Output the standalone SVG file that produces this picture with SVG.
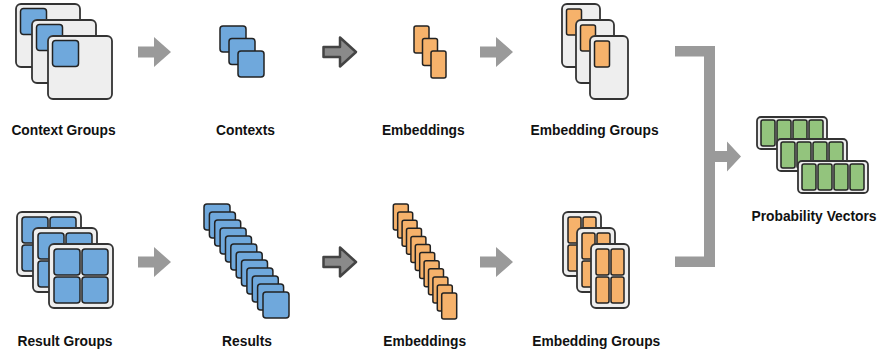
<svg xmlns="http://www.w3.org/2000/svg" xmlns:xlink="http://www.w3.org/1999/xlink" width="878" height="352" viewBox="0 0 878 352">
<style>
.lbl{font-family:"Liberation Sans",Arial,sans-serif;font-weight:bold;font-size:13.8px;fill:#111;text-anchor:middle}
.panel{fill:#eeeeee;stroke:#333;stroke-width:1.8}
.blue{fill:#6fa8dc;stroke:#222;stroke-width:1.5}
.orange{fill:#f6b26b;stroke:#222;stroke-width:1.5}
.green{fill:#93c47d;stroke:#222;stroke-width:1.5}
.garrow{fill:#9a9a9a}
.darrow{fill:#8a8a8a;stroke:#444;stroke-width:2.5;stroke-linejoin:round}
</style>
<defs>
<path id="ga" class="garrow" d="M0,-5.5 H16 V-15 L33,0 L16,15 V5.5 H0 Z"/>
<path id="da" class="darrow" d="M1.5,-5 H18 V-14.5 L34,0 L18,14.5 V5 H1.5 Z"/>
<g id="cg"><rect class="panel" width="64" height="63" rx="5"/><rect class="blue" x="4.5" y="4.5" width="26" height="26" rx="3"/></g>
<rect id="bsq" class="blue" width="26" height="26" rx="3"/>
<rect id="orc" class="orange" width="15" height="27" rx="2"/>
<rect id="orc2" class="orange" width="15" height="26" rx="2"/>
<g id="eg"><rect class="panel" width="38" height="63" rx="5"/><rect class="orange" x="4.5" y="5" width="15" height="26" rx="2"/></g>
<g id="rg"><rect class="panel" width="64" height="64" rx="5"/>
<rect class="blue" x="5" y="5" width="26" height="26" rx="3"/><rect class="blue" x="33" y="5" width="26" height="26" rx="3"/>
<rect class="blue" x="5" y="33" width="26" height="26" rx="3"/><rect class="blue" x="33" y="33" width="26" height="26" rx="3"/></g>
<g id="eg2"><rect class="panel" width="38" height="64" rx="5"/>
<rect class="orange" x="5" y="5" width="13" height="26" rx="2"/><rect class="orange" x="20" y="5" width="13" height="26" rx="2"/>
<rect class="orange" x="5" y="33" width="13" height="26" rx="2"/><rect class="orange" x="20" y="33" width="13" height="26" rx="2"/></g>
<g id="pv"><rect class="panel" width="70" height="32" rx="4"/>
<rect class="green" x="4" y="3" width="14" height="26" rx="2"/><rect class="green" x="20" y="3" width="14" height="26" rx="2"/>
<rect class="green" x="36" y="3" width="14" height="26" rx="2"/><rect class="green" x="52" y="3" width="14" height="26" rx="2"/></g>
</defs>

<g id="connectors">
<use href="#ga" transform="translate(138,52)"/>
<use href="#da" transform="translate(322,52)"/>
<use href="#ga" transform="translate(480,52)"/>
<use href="#ga" transform="translate(138,262)"/>
<use href="#da" transform="translate(322,262)"/>
<use href="#ga" transform="translate(480,262)"/>
<path class="garrow" d="M675,46 H715 V151 H727 V141.5 L741,156.5 L727,171.5 V162 H715 V267 H675 V256.5 H704 V56.5 H675 Z"/>
</g>

<g id="context-groups">
<use href="#cg" x="16" y="4"/><use href="#cg" x="32" y="20"/><use href="#cg" x="48" y="36"/>
<text class="lbl" x="63.5" y="135">Context Groups</text>
</g>
<g id="contexts">
<use href="#bsq" x="220" y="26"/><use href="#bsq" x="229" y="38.5"/><use href="#bsq" x="238" y="51"/>
<text class="lbl" x="245.5" y="135">Contexts</text>
</g>
<g id="embeddings-top">
<use href="#orc" x="414" y="26"/><use href="#orc" x="422.5" y="38.5"/><use href="#orc" x="431" y="51"/>
<text class="lbl" x="423.3" y="135">Embeddings</text>
</g>
<g id="embedding-groups-top">
<use href="#eg" x="562" y="4"/><use href="#eg" x="576" y="20"/><use href="#eg" x="590" y="36"/>
<text class="lbl" x="594.6" y="135">Embedding Groups</text>
</g>

<g id="result-groups">
<use href="#rg" x="17" y="212"/><use href="#rg" x="33" y="228"/><use href="#rg" x="49" y="244"/>
<text class="lbl" x="65" y="345.5">Result Groups</text>
</g>
<g id="results">
<use href="#bsq" x="204" y="204"/><use href="#bsq" x="209.4" y="212"/><use href="#bsq" x="214.7" y="220"/>
<use href="#bsq" x="220.1" y="228"/><use href="#bsq" x="225.5" y="236"/><use href="#bsq" x="230.8" y="244"/>
<use href="#bsq" x="236.2" y="252"/><use href="#bsq" x="241.5" y="260"/><use href="#bsq" x="246.9" y="268"/>
<use href="#bsq" x="252.3" y="276"/><use href="#bsq" x="257.6" y="284"/><use href="#bsq" x="263" y="292"/>
<text class="lbl" x="247" y="345.5">Results</text>
</g>
<g id="embeddings-bottom">
<use href="#orc2" x="393.3" y="204"/><use href="#orc2" x="397.7" y="212.1"/><use href="#orc2" x="402.1" y="220.2"/>
<use href="#orc2" x="406.5" y="228.3"/><use href="#orc2" x="410.9" y="236.4"/><use href="#orc2" x="415.3" y="244.5"/>
<use href="#orc2" x="419.7" y="252.6"/><use href="#orc2" x="424.1" y="260.7"/><use href="#orc2" x="428.5" y="268.8"/>
<use href="#orc2" x="432.9" y="276.9"/><use href="#orc2" x="437.3" y="285"/><use href="#orc2" x="441.7" y="293.1"/>
<text class="lbl" x="424.7" y="345.5">Embeddings</text>
</g>
<g id="embedding-groups-bottom">
<use href="#eg2" x="563" y="212"/><use href="#eg2" x="577" y="228"/><use href="#eg2" x="591" y="244"/>
<text class="lbl" x="596.3" y="345.5">Embedding Groups</text>
</g>

<g id="probability-vectors">
<use href="#pv" x="757" y="117"/><use href="#pv" x="777" y="139"/><use href="#pv" x="798" y="161"/>
<text class="lbl" x="814" y="221">Probability Vectors</text>
</g>
</svg>
